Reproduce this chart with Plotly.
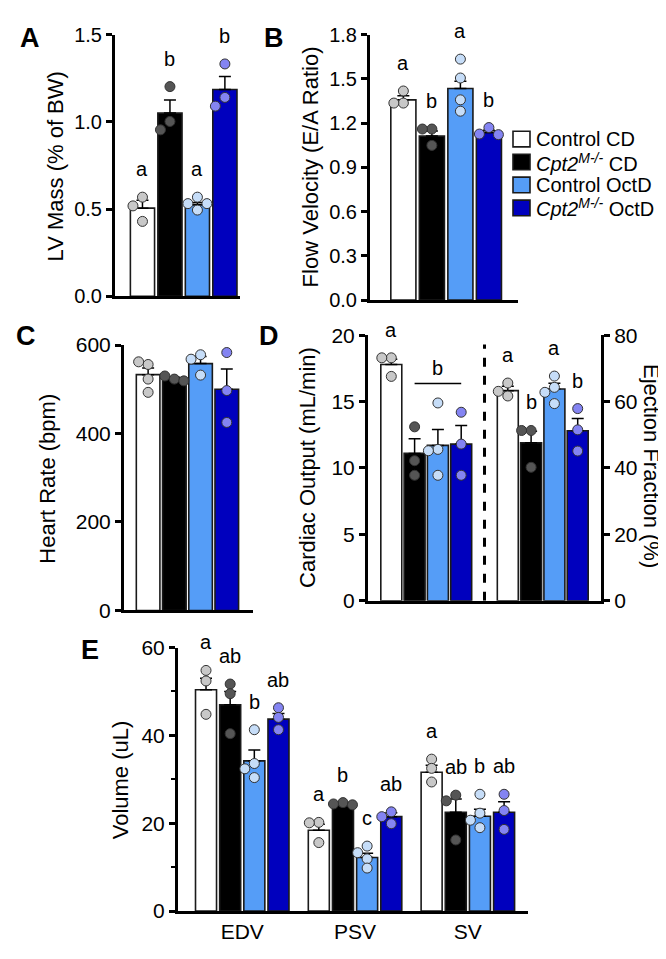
import plotly.graph_objects as go

W, H = 666, 959
FONT = "Liberation Sans, Arial, sans-serif"

# groups
group_names = ["Control CD", "<i>Cpt2<sup>M-/-</sup></i> CD",
               "Control OctD", "<i>Cpt2<sup>M-/-</sup></i> OctD"]
bar_colors = ["#FFFFFF", "#000000", "#559DF7", "#0000BE"]
dot_colors = ["#C8C8C8", "#555555", "#C6DDF8", "#8484F2"]

# A - LV mass
lv_mass_mean = [0.505, 1.05, 0.525, 1.185]
lv_mass_sem = [0.045, 0.075, 0.012, 0.075]
lv_mass_pts = [[0.568, 0.518, 0.429], [1.202, 1.002, 0.954],
               [0.568, 0.531, 0.531, 0.494], [1.332, 1.14, 1.09]]
lv_mass_labels = [("a", 0, 0), ("b", 1, 1), ("a", 2, 2), ("b", 3, 3)]

# B - E/A ratio
ea_mean = [1.358, 1.112, 1.435, 1.137]
ea_sem = [0.027, 0.035, 0.049, 0.015]
ea_pts = [[1.418, 1.336, 1.336], [1.16, 1.16, 1.049],
          [1.634, 1.506, 1.358, 1.281], [1.17, 1.126, 1.122]]
ea_labels = [("a", 0, 0), ("b", 1, 1), ("a", 2, 2), ("b", 3, 3)]

# C - heart rate
hr_mean = [533, 522, 558, 500]
hr_sem = [15, 5, 16, 46]
hr_pts = [[556, 562, 523, 493], [523, 530, 519],
          [578, 568, 532], [583, 497, 425]]
hr_labels = [("ns", 0, 3)]

# D - cardiac output (left) and ejection fraction (right)
co_mean = [17.8, 11.1, 11.7, 11.8]
co_sem = [0.4, 1.1, 1.2, 1.4]
co_pts = [[18.3, 18.3, 16.9], [13.1, 10.55, 9.45],
          [14.9, 11.4, 11.3, 9.45], [14.2, 11.8, 9.45]]
co_labels = [("a", 0, 0), ("b", 1, 3)]

ef_mean = [63.3, 47.6, 63.8, 51.2]
ef_sem = [1.3, 3.5, 1.7, 3.7]
ef_pts = [[65.6, 63.1, 61.7], [51.3, 51.3, 40.2],
          [67.7, 64.3, 62.8, 59.4], [57.9, 51.5, 45.1]]
ef_labels = [("a", 0, 0), ("b", 1, 1), ("a", 2, 2), ("b", 3, 3)]

# E - volumes
volume_metrics = ["EDV", "PSV", "SV"]
edv_mean = [50.4, 47.0, 34.2, 43.7]
edv_sem = [2.6, 3.0, 2.5, 1.3]
edv_pts = [[54.8, 52.4, 44.8], [51.7, 49.5, 40.4],
           [41.3, 33.6, 32.4, 30.4], [46.3, 44.1, 41.3]]
edv_labels = [("a", 0, 0), ("ab", 1, 1), ("b", 2, 2), ("ab", 3, 3)]
psv_mean = [18.4, 24.4, 12.2, 21.5]
psv_sem = [1.4, 0.3, 1.0, 0.9]
psv_pts = [[20.2, 20.1, 15.6], [24.7, 24.4, 24.2],
           [14.8, 13.3, 11.9, 9.8], [22.6, 21.5, 19.9]]
psv_labels = [("a", 0, 0), ("b", 1, 1), ("c", 2, 2), ("ab", 3, 3)]
sv_mean = [31.6, 22.5, 21.6, 22.5]
sv_sem = [1.6, 3.0, 1.6, 2.4]
sv_pts = [[34.6, 32.5, 29.4], [26.4, 25.1, 16.2],
          [26.6, 22.3, 20.7, 19.0], [26.6, 22.9, 18.6]]
sv_labels = [("a", 0, 0), ("ab", 1, 1), ("b", 2, 2), ("ab", 3, 3)]

fig = go.Figure()
annotations = []
shapes = []


def dom(a, b, top, bottom):
    # pixel box -> paper domains
    return [a / W, b / W], [1 - bottom / H, 1 - top / H]


def swarm(vals, xppu, yppu, d=9.5):
    # simple beeswarm: push overlapping dots sideways
    placed, offs = [], []
    for v in vals:
        for k in [0, -1, 1, -2, 2]:
            ox = k * d
            if all((ox - px) ** 2 + ((v - pv) * yppu) ** 2 >= (d * 0.98) ** 2
                   for px, pv in placed):
                break
        placed.append((ox, v))
        offs.append(ox / xppu)
    return offs


def add_set(xa, ya, xs, means, sems, pts, labels, xppu, yppu, bw):
    for g in range(4):
        fig.add_trace(go.Bar(
            x=xs[g], y=means[g], width=bw, xaxis=xa, yaxis=ya,
            name=group_names[g], showlegend=False, hoverinfo='skip',
            marker=dict(color=bar_colors[g], line=dict(color='#1a1a1a', width=1.6)),
            error_y=dict(type='data', symmetric=False, array=sems[g],
                         arrayminus=[0] * len(sems[g]), color='black',
                         thickness=1.5, width=6)))
    for g in range(4):
        for x, p in zip(xs[g], pts[g]):
            offs = swarm(p, xppu, yppu)
            fig.add_trace(go.Scatter(
                x=[x + o for o in offs], y=p, mode='markers', xaxis=xa, yaxis=ya,
                cliponaxis=False, showlegend=False, hoverinfo='skip',
                marker=dict(size=10, color=dot_colors[g], line=dict(color='#333333', width=1))))
    # significance letters
    for m, lab in enumerate(labels):
        for text, g0, g1 in lab:
            tops = [max(max(pts[g][m]), means[g][m] + sems[g][m]) for g in range(g0, g1 + 1)]
            top = max(tops)
            if g0 == g1:
                annotations.append(dict(x=xs[g0][m], y=top, xref=xa, yref=ya, text=text,
                                        showarrow=False, yanchor='bottom', yshift=15,
                                        font=dict(size=20)))
            else:
                yl = top + 20 / yppu
                shapes.append(dict(type='line', xref=xa, yref=ya, x0=xs[g0][m], x1=xs[g1][m],
                                   y0=yl, y1=yl, line=dict(color='black', width=1.5)))
                annotations.append(dict(x=(xs[g0][m] + xs[g1][m]) / 2, y=yl, xref=xa, yref=ya,
                                        text=text, showarrow=False, yanchor='bottom', yshift=2,
                                        font=dict(size=20)))


def yax(domain, rng, dtick, fmt=None, size=21, **kw):
    d = dict(domain=domain, range=rng, dtick=dtick, showline=True, linewidth=3,
             linecolor='black', ticks='outside', ticklen=6, tickwidth=2.5,
             tickcolor='black', tickfont=dict(size=size, color='black'),
             showgrid=False, zeroline=False, fixedrange=True)
    if fmt:
        d['tickformat'] = fmt
    d.update(kw)
    return d


def xax(domain, rng, **kw):
    d = dict(domain=domain, range=rng, showline=True, linewidth=3, linecolor='black',
             ticks='', showticklabels=False, showgrid=False, zeroline=False, fixedrange=True)
    d.update(kw)
    return d


one = lambda arr: [[v] for v in arr]
pos4 = [[0], [1], [2], [3]]

# panel boxes in pixels: (left, right, top, bottom)
boxA = (107, 232, 15, 283)
boxB = (362, 510, 15, 287)
boxC = (116, 245, 333, 605)
boxD = (360, 593, 323, 595)
boxE = (170, 520, 643, 913)

rA, rB, rC, rD, rE = [-1.0, 3.55], [-1.17, 4.02], [-0.92, 4.0], [-1.0, 9.0], [-1.16, 13.33]
step = 4.67


def ppu(box, xr, yr):
    return (box[1] - box[0]) / (xr[1] - xr[0]), (box[3] - box[2]) / (yr[1] - yr[0])


xp, yp = ppu(boxA, rA, [0, 1.5])
add_set('x', 'y', pos4, one(lv_mass_mean), one(lv_mass_sem), [[p] for p in lv_mass_pts],
        [lv_mass_labels], xp, yp, 0.88)
xp, yp = ppu(boxB, rB, [0, 1.8])
add_set('x2', 'y2', pos4, one(ea_mean), one(ea_sem), [[p] for p in ea_pts],
        [ea_labels], xp, yp, 0.88)
xp, yp = ppu(boxC, rC, [0, 600])
add_set('x3', 'y3', pos4, one(hr_mean), one(hr_sem), [[p] for p in hr_pts],
        [hr_labels], xp, yp, 0.9)
xp, yp = ppu(boxD, rD, [0, 20])
add_set('x4', 'y4', pos4, one(co_mean), one(co_sem), [[p] for p in co_pts],
        [co_labels], xp, yp, 0.9)
xp, yp = ppu(boxD, rD, [0, 80])
add_set('x4', 'y6', [[5], [6], [7], [8]], one(ef_mean), one(ef_sem), [[p] for p in ef_pts],
        [ef_labels], xp, yp, 0.9)

xs_e = [[m * step + g for m in range(3)] for g in range(4)]
means_e = [[edv_mean[g], psv_mean[g], sv_mean[g]] for g in range(4)]
sems_e = [[edv_sem[g], psv_sem[g], sv_sem[g]] for g in range(4)]
pts_e = [[edv_pts[g], psv_pts[g], sv_pts[g]] for g in range(4)]
labels_e = [edv_labels, psv_labels, sv_labels]
xp, yp = ppu(boxE, rE, [0, 60])
add_set('x5', 'y5', xs_e, means_e, sems_e, pts_e, labels_e, xp, yp, 0.87)

# dashed divider in D
shapes.append(dict(type='line', xref='x4', yref='y4', x0=4, x1=4, y0=0, y1=19.3,
                   line=dict(color='black', width=3, dash='dash')))

# legend (swatch + label), placed to the right of panel B
for i, name in enumerate(group_names):
    yc = 122 + i * 23.5
    shapes.append(dict(type='rect', xref='paper', yref='paper',
                       x0=505 / W, x1=522 / W, y0=1 - (yc + 8) / H, y1=1 - (yc - 8) / H,
                       fillcolor=bar_colors[i], line=dict(color='#1a1a1a', width=1.6)))
    annotations.append(dict(x=526 / W, y=1 - yc / H, xref='paper', yref='paper', text=name,
                            showarrow=False, xanchor='left', yanchor='middle',
                            font=dict(size=20)))


# y-axis titles
def ytitle(text, xpx, ypx, angle=-90):
    annotations.append(dict(x=xpx / W, y=1 - ypx / H, xref='paper', yref='paper', text=text,
                            textangle=angle, showarrow=False, font=dict(size=22),
                            xanchor='center', yanchor='middle'))


ytitle("LV Mass (% of BW)", 47, 150)
ytitle("Flow Velocity (E/A Ratio)", 302, 151)
ytitle("Heart Rate (bpm)", 40, 470)
ytitle("Cardiac Output (mL/min)", 300, 459)
ytitle("Ejection Fraction (%)", 644, 457, angle=90)
ytitle("Volume (uL)", 112, 779)

# panel letters
for letter, xpx, ypx in [("A", 22, 18), ("B", 266, 18), ("C", 18, 324), ("D", 261, 324), ("E", 82, 645)]:
    annotations.append(dict(x=xpx / W, y=1 - ypx / H, xref='paper', yref='paper',
                            text=f"<b>{letter}</b>", showarrow=False, font=dict(size=27),
                            xanchor='center', yanchor='middle'))

dxA, dyA = dom(*boxA)
dxB, dyB = dom(*boxB)
dxC, dyC = dom(*boxC)
dxD, dyD = dom(*boxD)
dxE, dyE = dom(*boxE)

fig.update_layout(
    width=W, height=H, margin=dict(l=0, r=0, t=0, b=0),
    paper_bgcolor='white', plot_bgcolor='white', barmode='overlay', showlegend=False,
    font=dict(family=FONT, color='black'),
    xaxis=xax(dxA, rA, anchor='y'),
    yaxis=yax(dyA, [0, 1.5], 0.5, '.1f', size=20, anchor='x'),
    xaxis2=xax(dxB, rB, anchor='y2'),
    yaxis2=yax(dyB, [0, 1.8], 0.3, '.1f', size=20, anchor='x2'),
    xaxis3=xax(dxC, rC, anchor='y3'),
    yaxis3=yax(dyC, [0, 600], 200, anchor='x3'),
    xaxis4=xax(dxD, rD, anchor='y4'),
    yaxis4=yax(dyD, [0, 20], 5, anchor='x4'),
    yaxis6=yax(dyD, [0, 80], 20, anchor='x4', overlaying='y4', side='right'),
    xaxis5=xax(dxE, rE, anchor='y5', showticklabels=True,
               tickvals=[m * step + 1.5 for m in range(3)], ticktext=volume_metrics,
               tickfont=dict(size=21, color='black')),
    yaxis5=yax(dyE, [0, 60], 20, anchor='x5',
               minor=dict(dtick=10, ticks='outside', ticklen=4, tickwidth=2, tickcolor='black')),
    annotations=annotations, shapes=shapes,
)

fig.write_html("out.html")
